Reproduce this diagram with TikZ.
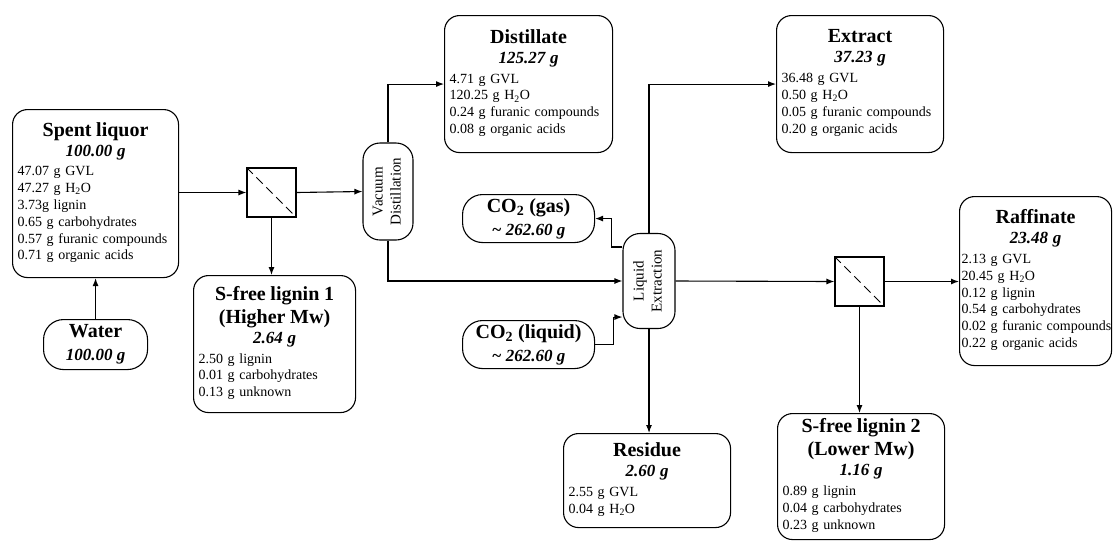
\documentclass[tikz,border=0pt]{standalone}
\usepackage{fontspec}
\setmainfont{Liberation Serif}
\usepackage{graphicx}
\usetikzlibrary{arrows.meta,positioning,calc}
\setlength{\parindent}{0pt}

\newcommand{\hd}[2]{{\centering\fontsize{20}{23}\selectfont\bfseries #1\par
  \fontsize{17}{20}\selectfont\itshape #2\par}\vspace{3pt}}
\newcommand{\lst}[1]{{\fontsize{14}{16.8}\selectfont
  \begin{tabular}[t]{@{}l@{}}#1\end{tabular}\par}}
\newcommand{\tfnt}{\fontsize{20}{22}\selectfont\bfseries}
\newcommand{\mfnt}{\fontsize{17}{20}\selectfont\bfseries\itshape}

\begin{document}
\begin{tikzpicture}[x=1pt,y=-1pt,line width=1.1pt,
    >={Latex[length=8pt,width=6pt]},
    stream/.style={draw,rounded corners=15pt,anchor=north west,inner xsep=5pt,inner ysep=0pt,
      font=\fontsize{14}{16.8}\selectfont},
    pill/.style={draw,rounded corners=20pt,anchor=north west,align=center,inner sep=0pt,
      font=\fontsize{17}{23}\selectfont},
    unit/.style={draw,rounded corners=17pt,inner sep=0pt,font=\fontsize{15}{18}\selectfont},
    filt/.style={draw,minimum size=49pt,inner sep=0pt}]
  \useasboundingbox (0,0) rectangle (1113,542);

  % streams
  \node[stream,minimum width=166pt,minimum height=168pt,text width=156pt] (spent) at (12,109)
    {\hd{Spent liquor}{100.00 g}
     \lst{47.07 g GVL\\
     47.27 g H\textsubscript{2}O\\
     3.73g lignin\\
     0.65 g carbohydrates\\
     0.57 g furanic compounds\\
     0.71 g organic acids}};
  \node[pill,minimum width=104pt,minimum height=50pt] (water) at (43,319)
    {{\tfnt Water}\\{\mfnt 100.00 g}};
  \node[stream,minimum width=162pt,minimum height=137pt,text width=152pt] (lig1) at (193,275)
    {\hd{S-free lignin 1\\(Higher Mw)}{2.64 g}
     \lst{2.50 g lignin\\
     0.01 g carbohydrates\\
     0.13 g unknown}};
  \node[stream,minimum width=168pt,minimum height=137pt,text width=158pt] (dist) at (444,15)
    {\hd{Distillate}{125.27 g}
     \lst{4.71 g GVL\\
     120.25 g H\textsubscript{2}O\\
     0.24 g furanic compounds\\
     0.08 g organic acids}};
  \node[pill,minimum width=132pt,minimum height=48pt] (gas) at (462,194)
    {{\tfnt CO\textsubscript{2} (gas)}\\{\mfnt \textasciitilde{} 262.60 g}};
  \node[pill,minimum width=132pt,minimum height=48pt] (liquid) at (462,320)
    {{\tfnt CO\textsubscript{2} (liquid)}\\{\mfnt \textasciitilde{} 262.60 g}};
  \node[stream,minimum width=167pt,minimum height=94pt,text width=157pt] (res) at (563,433)
    {\hd{Residue}{2.60 g}
     \lst{2.55 g GVL\\
     0.04 g H\textsubscript{2}O}};
  \node[stream,minimum width=167pt,minimum height=137pt,text width=157pt] (extr) at (776,15)
    {\hd{Extract}{37.23 g}
     \lst{36.48 g GVL\\
     0.50 g H\textsubscript{2}O\\
     0.05 g furanic compounds\\
     0.20 g organic acids}};
  \node[stream,minimum width=167pt,minimum height=126pt,text width=157pt] (lig2) at (777,413)
    {\hd{S-free lignin 2\\(Lower Mw)}{1.16 g}
     \lst{0.89 g lignin\\
     0.04 g carbohydrates\\
     0.23 g unknown}};
  \node[stream,minimum width=152pt,minimum height=169pt,text width=148pt,inner xsep=2pt] (raff) at (959,196)
    {\hd{Raffinate}{23.48 g}
     \lst{2.13 g GVL\\
     20.45 g H\textsubscript{2}O\\
     0.12 g lignin\\
     0.54 g carbohydrates\\
     0.02 g furanic compounds\\
     0.22 g organic acids}};

  % units
  \node[filt] (f1) at (271.5,192.5) {};
  \draw[dashed,dash pattern=on 9pt off 5pt,line width=0.9pt] (f1.north west) -- (f1.south east);
  \node[unit,minimum width=50pt,minimum height=97pt] (vac) at (388,191.5)
    {\rotatebox{90}{\begin{tabular}{@{}c@{}}Vacuum\\Distillation\end{tabular}}};
  \node[unit,minimum width=52pt,minimum height=95pt] (liq) at (649,281)
    {\rotatebox{90}{\begin{tabular}{@{}c@{}}Liquid\\Extraction\end{tabular}}};
  \node[filt] (f2) at (859.5,281.5) {};
  \draw[dashed,dash pattern=on 9pt off 5pt,line width=0.9pt] (f2.north west) -- (f2.south east);

  % streams between units
  \draw[->] (spent.east |- f1.west) -- (f1.west);
  \draw[->] (water.north) -- (water.north |- spent.south);
  \draw[->] (f1.east) -- (vac.west);
  \draw[->] (f1.south) -- (f1.south |- lig1.north);
  \draw[->] (vac.north) |- (dist.west);
  \draw[->] (vac.south) |- (liq.west);
  \draw[->] (liq.north) |- (extr.west);
  \draw[->] (liq.south) -- (liq.south |- res.north);
  \draw[->] (liq.east) -- (f2.west);
  \draw[->] (f2.east) -- (f2.east -| raff.west);
  \draw[->] (f2.south) -- (f2.south |- lig2.north);
  \coordinate (cout) at ($(liq.north west)+(0,14)$);
  \coordinate (cin) at ($(liq.south west)+(0,-12)$);
  \draw[->] (cout) -- ++(-11,0) |- (gas.east);
  \draw[->] (liquid.east) -- ++(18,0) |- (cin);
\end{tikzpicture}
\end{document}
